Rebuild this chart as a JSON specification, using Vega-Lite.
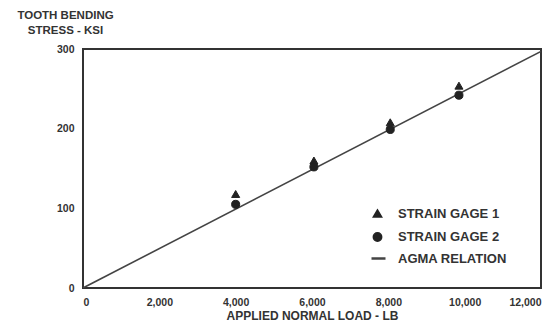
{
  "$schema": "https://vega.github.io/schema/vega-lite/v6.json",
  "width": 458,
  "height": 239,
  "autosize": {"type": "none"},
  "padding": {"left": 83, "top": 49, "right": 18, "bottom": 43},
  "background": "white",
  "config": {
    "view": {"stroke": "#333333", "strokeWidth": 2},
    "font": "Liberation Sans",
    "axis": {
      "labelFont": "Liberation Sans", "labelFontWeight": "bold", "labelFontSize": 10.5, "labelColor": "#333333",
      "titleFont": "Liberation Sans", "titleFontWeight": "bold", "titleFontSize": 12, "titleColor": "#333333",
      "ticks": false, "domain": false, "grid": false
    },
    "legend": {
      "labelFont": "Liberation Sans", "labelFontWeight": "bold", "labelFontSize": 13, "labelColor": "#333333"
    }
  },
  "datasets": {
    "pts": [
      {"load": 4000, "stress": 118, "series": "STRAIN GAGE 1"},
      {"load": 6050, "stress": 160, "series": "STRAIN GAGE 1"},
      {"load": 8050, "stress": 208, "series": "STRAIN GAGE 1"},
      {"load": 9850, "stress": 254, "series": "STRAIN GAGE 1"},
      {"load": 4000, "stress": 105, "series": "STRAIN GAGE 2"},
      {"load": 6050, "stress": 152, "series": "STRAIN GAGE 2"},
      {"load": 8050, "stress": 199, "series": "STRAIN GAGE 2"},
      {"load": 9850, "stress": 242, "series": "STRAIN GAGE 2"}
    ],
    "agma": [
      {"load": 0, "stress": 0, "series": "AGMA RELATION"},
      {"load": 12000, "stress": 297, "series": "AGMA RELATION"}
    ]
  },
  "layer": [
    {
      "data": {"name": "agma"},
      "mark": {"type": "line", "strokeWidth": 1.6, "clip": true},
      "encoding": {
        "x": {"field": "load", "type": "quantitative", "scale": {"domain": [0, 12000], "nice": false},
          "axis": {"values": [0, 2000, 4000, 6000, 8000, 10000, 12000], "format": ",d", "labelPadding": 9,
            "title": "APPLIED NORMAL LOAD - LB", "titlePadding": 3}},
        "y": {"field": "stress", "type": "quantitative", "scale": {"domain": [0, 300], "nice": false},
          "axis": {"values": [0, 100, 200, 300], "labelPadding": 9,
            "title": ["TOOTH BENDING", "STRESS - KSI"], "titleAngle": 0, "titleAlign": "center", "titleFontSize": 11.5,
            "titleX": -18, "titleY": -34, "titleLineHeight": 15, "titleBaseline": "middle"}},
        "stroke": {"field": "series", "type": "nominal", "scale": {"domain": ["AGMA RELATION"], "range": ["#444444"]},
          "legend": {"title": null, "orient": "none", "legendX": 287, "legendY": 201, "symbolSize": 196,
            "symbolStrokeWidth": 2.5, "labelOffset": 11}}
      }
    },
    {
      "data": {"name": "pts"},
      "mark": {"type": "point", "filled": true, "opacity": 1, "size": 65, "fill": "#222222", "stroke": "#222222", "strokeWidth": 1},
      "encoding": {
        "x": {"field": "load", "type": "quantitative"},
        "y": {"field": "stress", "type": "quantitative"},
        "shape": {"field": "series", "type": "nominal",
          "scale": {"domain": ["STRAIN GAGE 1", "STRAIN GAGE 2"], "range": ["triangle-up", "circle"]},
          "legend": {"title": null, "orient": "none", "legendX": 288, "legendY": 158, "rowPadding": 8.5,
            "symbolSize": 70, "labelOffset": 14, "symbolFillColor": "#222222"}}
      }
    }
  ]
}
